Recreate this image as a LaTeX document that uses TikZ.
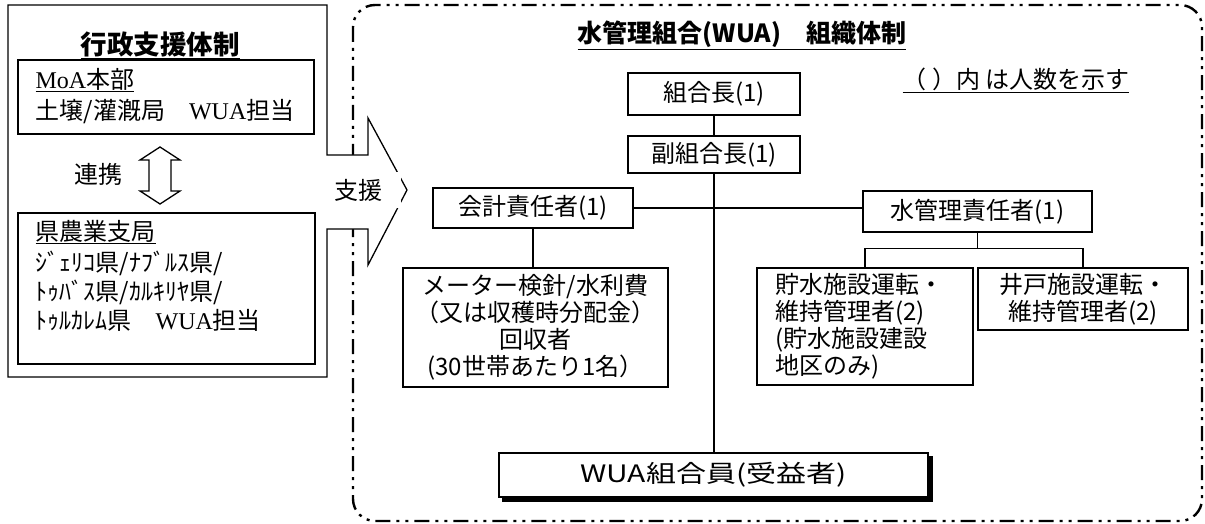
\documentclass[tikz,border=0pt]{standalone}
\usepackage{fontspec}
\setmainfont{Noto Sans CJK JP}
\newfontfamily\romanw{Liberation Serif}

\begin{document}
\begin{tikzpicture}[x=1pt, y=-1pt, line width=1.3pt,
		every node/.style={inner sep=0pt, font=\fontsize{24}{27}\selectfont},
		heading/.style={font=\fontsize{25}{28}\selectfont\bfseries},
		post/.style={draw, fill=white, align=center},
		link/.style={line width=1.3pt},
		frame/.style={line width=2.4pt, rounded corners=22pt, dash pattern=on 15pt off 6pt on 3pt off 6pt on 3pt off 6pt}]
		%%%%% START %%%%%
		
		\useasboundingbox (0,0) rectangle (1205,524);
		
		\draw[frame] (353,5) rectangle (1202,521);
		
		%%%%% ADMIN SIDE %%%%%
		
		\draw[fill=white] (8,5) -- (327,5) -- (327,155) -- (368,155) -- (368,118) -- (407,190) -- (368,265) -- (368,229) -- (327,229) -- (327,377) -- (8,377) -- cycle;
		\draw (18,60) rectangle (314,134);
		\draw (18,213) rectangle (315,364);
		\draw (160,147) -- (180,160) -- (171,160) -- (171,191) -- (180,191) -- (160,204) -- (140,191) -- (149,191) -- (149,160) -- (140,160) -- cycle;
		
		\node[heading, font=\fontsize{26.5}{28}\selectfont\bfseries] (adminTitle) at (160,45) {\underline{行政支援体制}};
		\node[anchor=west] (moaHead) at (35,80) {\underline{{\romanw MoA}本部}};
		\node[anchor=west] (moaDesk) at (35,112) {土壌/灌漑局　{\romanw WUA}担当};
		\node (renkei) at (98,174) {連携};
		\node[anchor=west] (provHead) at (35,232) {\underline{県農業支局}};
		\node[anchor=west, align=left, font=\fontsize{24}{29}\selectfont] (provDesk) at (35,291) {ｼﾞｪﾘｺ県/ﾅﾌﾞﾙｽ県/\\ﾄｩﾊﾞｽ県/ｶﾙｷﾘﾔ県/\\ﾄｩﾙｶﾚﾑ県　{\romanw WUA}担当};
		\node[fill=white, minimum width=86pt, minimum height=36pt] (shien) at (358,190) {支援};
		
		%%%%% WUA SIDE %%%%%
		
		\node[heading] (wuaTitle) at (742,35) {\underline{水管理組合(WUA)　組織体制}};
		\node (note) at (1016,80) {\underline{（ ）内 は人数を示す}};
		
		\node[post, minimum width=172pt, minimum height=42pt] (chief) at (714,94) {組合長(1)};
		\node[post, minimum width=172pt, minimum height=37pt] (vice) at (714,154.5) {副組合長(1)};
		\node[post, minimum width=200pt, minimum height=40pt] (acct) at (533,208) {会計責任者(1)};
		\node[post, minimum width=229pt, minimum height=41pt] (water) at (977.5,211.5) {水管理責任者(1)};
		\node[post, minimum width=265pt, minimum height=119pt] (meter) at (535.5,327.5) {メーター検針/水利費\\（又は収穫時分配金）\\回収者\\(30世帯あたり1名）};
		\node[post, minimum width=216pt, minimum height=117pt, text width=180pt, align=left] (stor) at (865,326.5) {貯水施設運転・\\維持管理者(2)\\(貯水施設建設\\地区のみ)};
		\node[post, minimum width=210pt, minimum height=62pt] (well) at (1083,299) {井戸施設運転・\\維持管理者(2)};
		\node[post, minimum width=429pt, minimum height=44pt] (members) at (713.5,475) {\scalebox{1.25}[1]{WUA組合員(受益者)}};
		% shadow of the members box
		\draw[line width=4pt] ([shift={(4,2.6)}]members.south west) -- ([shift={(2.6,2.6)}]members.south east) -- ([shift={(2.6,4)}]members.north east);
		
		\draw[link] (chief) -- (vice);
		\draw[link] (vice.south) -- (vice.south |- members.north);
		\draw[link] (acct.east) -- (acct.east -| water.west);
		\draw[link] (acct.south) -- (acct.south |- meter.north);
		\draw[link] (water.south) -- ++(0,16) coordinate (fork);
		\draw[link] (stor.north) |- (fork) -| (well.north);
		
		%%%%% END %%%%%
	\end{tikzpicture}
\end{document}
